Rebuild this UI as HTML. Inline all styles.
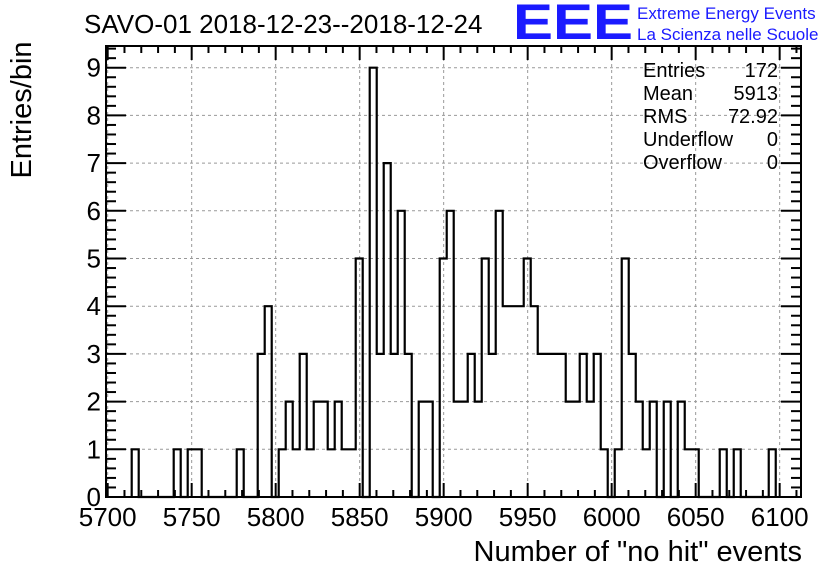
<!DOCTYPE html>
<html><head><meta charset="utf-8"><style>
body{margin:0;background:#fff;}
svg{display:block;font-family:"Liberation Sans",sans-serif;}
</style></head><body>
<svg id="c" width="836" height="572" xmlns="http://www.w3.org/2000/svg">
<rect width="836" height="572" fill="#fff"/>
<text x="84" y="33" font-size="26">SAVO-01 2018-12-23--2018-12-24</text>
<text x="513" y="39" font-size="50" font-weight="bold" fill="#1a1aff" textLength="120" lengthAdjust="spacingAndGlyphs">EEE</text>
<text x="637" y="19" font-size="17" fill="#1a1aff">Extreme Energy Events</text>
<text x="637" y="40" font-size="17" fill="#1a1aff">La Scienza nelle Scuole</text>
<text transform="translate(31,110) rotate(-90)" text-anchor="middle" font-size="29">Entries/bin</text>
<text x="802" y="561" text-anchor="end" font-size="29">Number of "no hit" events</text>
<g id="grid"></g><g id="hist"></g><g id="axes"></g>
<g font-size="20">
<text x="643" y="77">Entries</text><text x="778" y="77" text-anchor="end">172</text>
<text x="643" y="100">Mean</text><text x="778" y="100" text-anchor="end">5913</text>
<text x="643" y="123">RMS</text><text x="778" y="123" text-anchor="end">72.92</text>
<text x="643" y="146">Underflow</text><text x="778" y="146" text-anchor="end">0</text>
<text x="643" y="169">Overflow</text><text x="778" y="169" text-anchor="end">0</text>
</g>
</svg>
<script>
const binStart = 5714.3;
const binWidth = 4.167;
const counts = [1,0,0,0,0,0,1,0,1,1,0,0,0,0,0,1,0,0,3,4,0,1,2,1,3,1,2,2,1,2,1,1,
5,0,9,3,7,3,6,3,0,2,2,0,5,6,2,2,3,2,5,3,6,4,4,4,5,4,3,3,3,3,2,2,
3,2,3,1,0,1,5,3,2,1,2,0,2,0,2,1,1,0,0,0,1,0,1,0,0,0,0,1];
const xTicks = [5700,5750,5800,5850,5900,5950,6000,6050,6100];
const yTicks = [0,1,2,3,4,5,6,7,8,9];
const xMin=5699, xMax=6112.7, yMax=9.455;
const L=106,R=801,T=46,B=497;
const X=v=>L+(v-xMin)/(xMax-xMin)*(R-L);
const Y=v=>B-v/yMax*(B-T);
const NS="http://www.w3.org/2000/svg";
function mk(tag,attrs,parent){const e=document.createElementNS(NS,tag);for(const k in attrs)e.setAttribute(k,attrs[k]);parent.appendChild(e);return e;}
const grid=document.getElementById('grid'),hist=document.getElementById('hist'),axes=document.getElementById('axes');
xTicks.forEach(t=>{const l=mk('line',{x1:X(t),x2:X(t),y1:T,y2:B,stroke:'#999','stroke-dasharray':'3,3','stroke-width':1},grid);

});
yTicks.forEach(t=>{if(t===0)return;const l=mk('line',{x1:L,x2:R,y1:Y(t),y2:Y(t),stroke:'#999','stroke-dasharray':'3,3','stroke-width':1},grid);

});
let d='M'+X(binStart)+','+Y(0);
counts.forEach((c,i)=>{const x0=X(binStart+i*binWidth),x1=X(binStart+(i+1)*binWidth);d+=' L'+x0+','+Y(c)+' L'+x1+','+Y(c);});
d+=' L'+X(binStart+counts.length*binWidth)+','+Y(0);
const p=mk('path',{d:d,fill:'none',stroke:'#000','stroke-width':2.2},hist);


const fr=mk('rect',{x:L,y:T,width:R-L,height:B-T,fill:'none',stroke:'#000','stroke-width':2},axes);


for(let v=5700;v<=6110;v+=10){const major=v%50===0;const len=major?14:7;
mk('line',{x1:X(v),x2:X(v),y1:B,y2:B-len,stroke:'#000','stroke-width':2},axes);
mk('line',{x1:X(v),x2:X(v),y1:T,y2:T+len,stroke:'#000','stroke-width':2},axes);}
xTicks.forEach(t=>{const tx=mk('text',{x:X(t),y:526,'text-anchor':'middle','font-size':26},axes);tx.textContent=t;

});
for(let k=0;k<=47;k++){const v=k*0.2;const major=k%5===0;const len=major?20:10;
mk('line',{x1:L,x2:L+len,y1:Y(v),y2:Y(v),stroke:'#000','stroke-width':2},axes);
mk('line',{x1:R,x2:R-len,y1:Y(v),y2:Y(v),stroke:'#000','stroke-width':2},axes);}
yTicks.forEach(t=>{const tx=mk('text',{x:101,y:Y(t)+9,'text-anchor':'end','font-size':26},axes);tx.textContent=t;

});
</script>
</body></html>
